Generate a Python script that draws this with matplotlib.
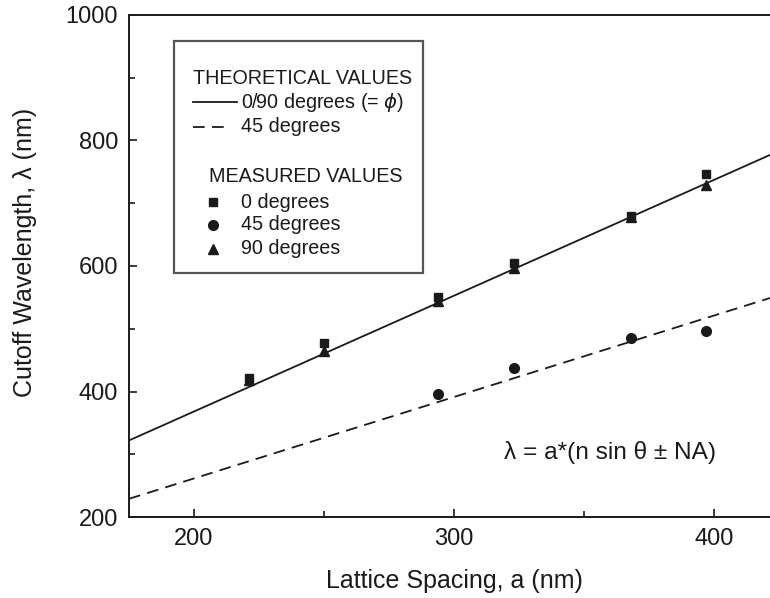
import matplotlib
matplotlib.use("Agg")
import matplotlib.pyplot as plt
from matplotlib.patches import Rectangle
from matplotlib.lines import Line2D

plt.rcParams['font.family'] = ['Liberation Sans', 'DejaVu Sans']

# measured data
a_pts = [221, 250, 294, 323, 368, 397]
lam_0deg = [421, 477, 551, 604, 680, 747]
lam_90deg = [418, 465, 544, 597, 678, 729]
a_45 = [294, 323, 368, 397]
lam_45deg = [396, 438, 486, 497]

# theoretical lines (end points)
a_theory = [175, 421.5]
lam_theory_0_90 = [322, 777]
lam_theory_45 = [229, 549]

xticks_major = [200, 300, 400]
xticks_minor = [250, 350]
yticks_major = [200, 400, 600, 800, 1000]
yticks_minor = [300, 500, 700, 900]

ink = '#1a1a1a'
W, H = 770, 598
fig = plt.figure(figsize=(W / 100, H / 100), dpi=100)
L, R, B, T = 129, 770, 517, 15
ax = fig.add_axes([L / W, 1 - B / H, (R - L) / W, (B - T) / H])

ax.plot(a_theory, lam_theory_0_90, '-', color=ink, lw=1.3)
ax.plot(a_theory, lam_theory_45, '--', color=ink, lw=1.3, dashes=(6.5, 4))
ax.plot(a_pts, lam_0deg, 's', color=ink, ms=6, ls='none')
ax.plot(a_pts, lam_90deg, '^', color=ink, ms=7, ls='none')
ax.plot(a_45, lam_45deg, 'o', color=ink, ms=7, ls='none')

ax.set_xlim(175, 421.5)
ax.set_ylim(200, 1000)
ax.set_xticks(xticks_major)
ax.set_xticks(xticks_minor, minor=True)
ax.set_yticks(yticks_major)
ax.set_yticks(yticks_minor, minor=True)
ax.tick_params(which='both', direction='in', colors=ink, width=1.2)
ax.tick_params(which='major', length=6, labelsize=17, pad=8)
ax.tick_params(which='minor', length=4)
ax.spines['right'].set_visible(False)
for s in ['left', 'bottom', 'top']:
    ax.spines[s].set_linewidth(1.4)
    ax.spines[s].set_color(ink)

ax.set_xlabel('Lattice Spacing, a (nm)', fontsize=18, color=ink)
ax.set_ylabel('Cutoff Wavelength, λ (nm)', fontsize=18, color=ink)
ax.xaxis.set_label_coords((454 - L) / (R - L), (B - 581) / (B - T))
ax.xaxis.label.set_va('center')
ax.yaxis.set_label_coords((25 - L) / (R - L), (B - 252) / (B - T))
ax.yaxis.label.set_va('center')
ax.yaxis.label.set_ha('center')


def px(x, y):
    return (x - L) / (R - L), (B - y) / (B - T)


# legend box
x0, y0 = px(174, 273)
x1, y1 = px(423, 41)
ax.add_patch(Rectangle((x0, y0), x1 - x0, y1 - y0, transform=ax.transAxes,
                       facecolor='white', edgecolor='#555555', lw=1.6, zorder=5))
fs = 14.2
tx, ty = px(193, 78)
ax.text(tx, ty, 'THEORETICAL VALUES', transform=ax.transAxes, fontsize=fs,
        va='center', ha='left', color=ink, zorder=6)
lx0, ly = px(193, 102)
lx1, _ = px(237, 102)
ax.add_line(Line2D([lx0, lx1], [ly, ly], transform=ax.transAxes, color=ink, lw=1.3, zorder=6))
tx, _ = px(241, 102)
ax.text(tx, ly, '0/90 degrees (= $\\phi$)', transform=ax.transAxes, fontsize=fs,
        va='center', ha='left', color=ink, zorder=6)
lx0, ly = px(193, 127)
lx1, _ = px(227, 127)
ax.add_line(Line2D([lx0, lx1], [ly, ly], transform=ax.transAxes, color=ink, lw=1.3,
                   ls='--', dashes=(6.5, 4), zorder=6))
ax.text(tx, ly, '45 degrees', transform=ax.transAxes, fontsize=fs,
        va='center', ha='left', color=ink, zorder=6)
mx, my = px(209, 177)
ax.text(mx, my, 'MEASURED VALUES', transform=ax.transAxes, fontsize=fs,
        va='center', ha='left', color=ink, zorder=6)
for marker, msz, yy, lab in [('s', 6, 202, '0 degrees'), ('o', 7, 225, '45 degrees'),
                             ('^', 7, 249, '90 degrees')]:
    sx, sy = px(213, yy)
    ax.add_line(Line2D([sx], [sy], transform=ax.transAxes, marker=marker, ms=msz,
                       color=ink, ls='none', zorder=6))
    ax.text(tx, sy, lab, transform=ax.transAxes, fontsize=fs,
            va='center', ha='left', color=ink, zorder=6)

fx, fy = px(504, 453)
ax.text(fx, fy, 'λ = a*(n sin θ ± NA)', transform=ax.transAxes, fontsize=17.6,
        va='center', ha='left', color=ink)

fig.savefig('out.png', dpi=100)
